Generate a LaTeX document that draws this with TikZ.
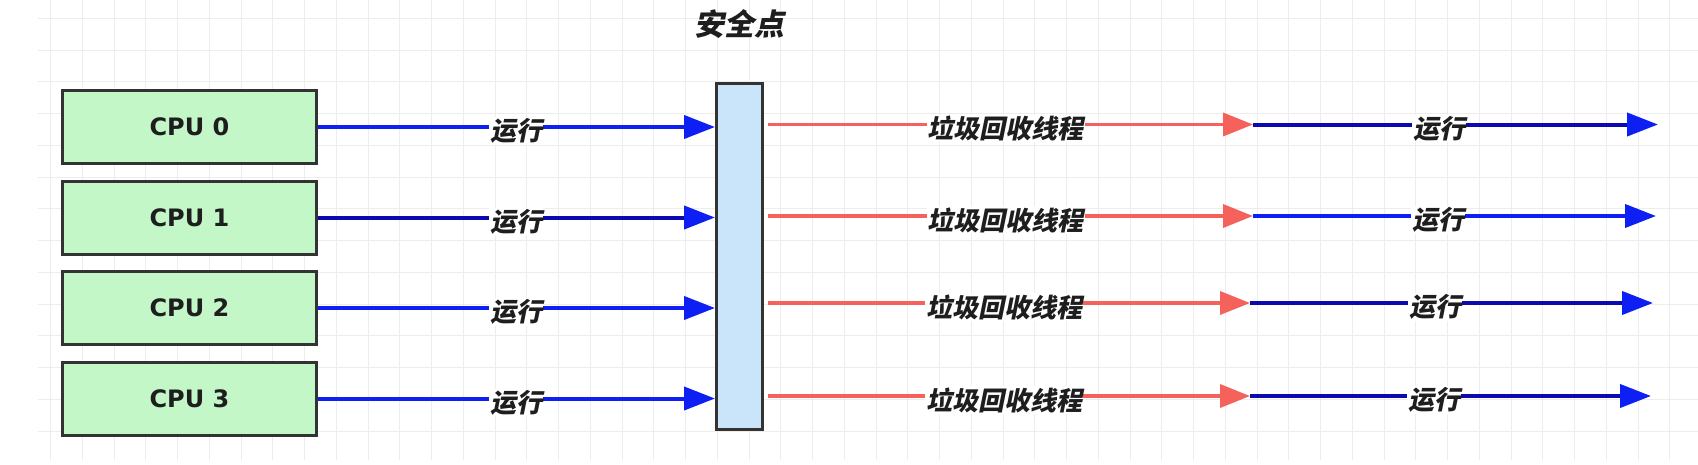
\documentclass[tikz,border=0pt]{standalone}
\usepackage{fontspec}
\usepackage{tikz}
\usetikzlibrary{arrows.meta}
\usetikzlibrary{positioning}

\newfontfamily\cpufont{DejaVu Sans}
\newfontfamily\zhfont[FakeSlant=0.2]{Noto Sans CJK SC}

\definecolor{cpugreen}{HTML}{C4F7C8}
\definecolor{safeblue}{HTML}{CAE5FA}
\definecolor{edgegray}{HTML}{333333}
\definecolor{textdark}{HTML}{1E1E1E}
\definecolor{runblue}{HTML}{0D1FF2}
\definecolor{runnavy}{HTML}{0A0AAE}
\definecolor{gcred}{HTML}{F5615B}
\definecolor{gridgray}{HTML}{EDEDED}

\tikzset{
	cpubox/.style={draw=edgegray, fill=cpugreen, line width=3pt, minimum width=253.5pt, minimum height=73pt, inner sep=0pt, text=textdark, font=\cpufont\bfseries\fontsize{24}{28}\selectfont},
	safebox/.style={draw=edgegray, fill=safeblue, line width=3pt, minimum width=46pt, minimum height=346pt, inner sep=0pt},
	lbl/.style={fill=white, inner sep=1pt, text=textdark, yshift=-4pt, font=\zhfont\bfseries\fontsize{26}{30}\selectfont},
	safetitle/.style={text=textdark, inner sep=0pt, font=\zhfont\bfseries\fontsize{30}{34}\selectfont},
	run/.style={draw=#1, line width=4pt, -{Triangle[length=31pt,width=23pt,color=runblue]}},
	run/.default=runblue,
	gc/.style={draw=gcred, line width=3.5pt, -{Triangle[length=30pt,width=23pt]}},
	gridline/.style={draw=gridgray, line width=1pt}
}

\begin{document}
\begin{tikzpicture}[x=1pt, y=-1pt]
\useasboundingbox (0,0) rectangle (1698,464);
\fill[white] (0,0) rectangle (1698,464);
% background grid
\foreach \gx in {50.7,82.45,...,1690} \draw[gridline] (\gx,0) -- (\gx,460);
\foreach \gy in {18.3,50.05,...,460} \draw[gridline] (38,\gy) -- (1698,\gy);

\node[cpubox] (cpu0) at (189.5,127) {CPU 0};
\node[cpubox, below=14.5pt of cpu0] (cpu1) {CPU 1};
\node[cpubox, below=14.5pt of cpu1] (cpu2) {CPU 2};
\node[cpubox, below=14.5pt of cpu2] (cpu3) {CPU 3};
\node[safebox] (safe) at (739.5,256.5) {};
\node[safetitle, above=43pt of safe] (safetext) {安全点};

\coordinate (gcs0) at (768,124.5);
\coordinate (gcs1) at (768,216);
\coordinate (gcs2) at (768,303);
\coordinate (gcs3) at (768,396);
\coordinate (gce0) at (1253,124.5);
\coordinate (gce1) at (1253,216);
\coordinate (gce2) at (1250,303);
\coordinate (gce3) at (1250,396);
\coordinate (rune0) at (1658,124.5);
\coordinate (rune1) at (1656,216);
\coordinate (rune2) at (1653,303);
\coordinate (rune3) at (1651,396);

\path
(cpu0) edge[run] node[lbl] {运行} (cpu0 -| safe.west)
(cpu1) edge[run=runnavy] node[lbl] {运行} (cpu1 -| safe.west)
(cpu2) edge[run] node[lbl] {运行} (cpu2 -| safe.west)
(cpu3) edge[run] node[lbl] {运行} (cpu3 -| safe.west)
(gcs0) edge[gc] node[lbl, pos=0.49] {垃圾回收线程} (gce0)
(gcs1) edge[gc] node[lbl, pos=0.49] {垃圾回收线程} (gce1)
(gcs2) edge[gc] node[lbl, pos=0.49] {垃圾回收线程} (gce2)
(gcs3) edge[gc] node[lbl, pos=0.49] {垃圾回收线程} (gce3)
(gce0) edge[run=runnavy] node[lbl, pos=0.46] {运行} (rune0)
(gce1) edge[run] node[lbl, pos=0.46] {运行} (rune1)
(gce2) edge[run=runnavy] node[lbl, pos=0.46] {运行} (rune2)
(gce3) edge[run=runnavy] node[lbl, pos=0.46] {运行} (rune3)
;
\end{tikzpicture}
\end{document}
